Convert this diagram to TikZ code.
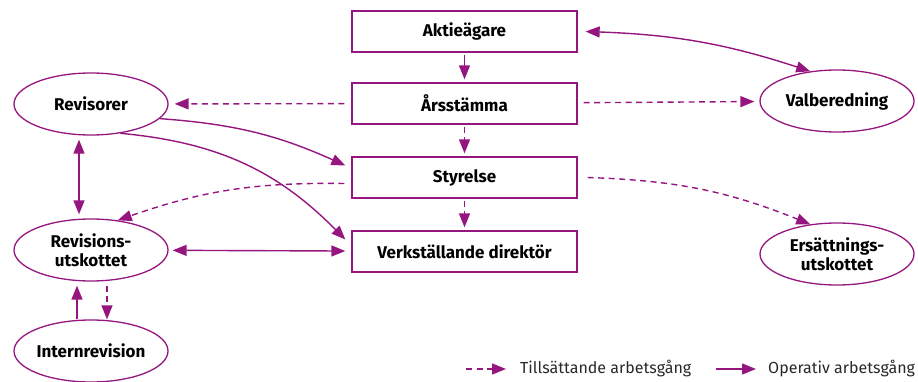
\documentclass[tikz,border=0pt]{standalone}
\usepackage{fontspec}
\setmainfont{Fira Sans}
\usetikzlibrary{arrows.meta,shapes.geometric}
\definecolor{lila}{RGB}{150,22,128}
\definecolor{textgra}{RGB}{40,40,40}

\begin{document}
\begin{tikzpicture}[x=1pt,y=-1pt,
    ruta/.style={draw=lila,line width=1.3pt,minimum width=225pt,minimum height=41pt,inner sep=0pt,font=\bfseries\fontsize{17}{19}\selectfont},
    oval/.style={draw=lila,ellipse,line width=1.3pt,minimum width=154pt,minimum height=62pt,inner sep=0pt,align=center,font=\bfseries\fontsize{17}{19}\selectfont},
    pil/.style={draw=lila,line width=1.4pt,-{Triangle[length=14pt,width=11pt]}},
    dubbelpil/.style={pil,{Triangle[length=14pt,width=11pt]}-{Triangle[length=14pt,width=11pt]}},
    streck/.style={pil,dash pattern=on 6pt off 4.5pt},
    legtext/.style={anchor=west,inner sep=0pt,text=textgra,font=\fontsize{16}{18}\selectfont}]
    \useasboundingbox (0,0) rectangle (918,382);
    % rutor i mitten
    \node[ruta] (akt) at (464.5,31.5) {Aktieägare};
    \node[ruta] (ars) at (464.5,103.5) {Årsstämma};
    \node[ruta] (sty) at (464.5,177.5) {Styrelse};
    \node[ruta] (vd) at (464.5,251.5) {Verkställande direktör};
    % ovaler
    \node[oval] (rev) at (91,104) {Revisorer};
    \node[oval] (revu) at (91,250) {Revisions-\\utskottet};
    \node[oval] (intr) at (91,351) {Internrevision};
    \node[oval] (val) at (837,101) {Valberedning};
    \node[oval] (ers) at (837,254) {Ersättnings-\\utskottet};
    % pilar
    \draw[pil,shorten <=2pt,shorten >=3pt] (akt) -- (ars);
    \draw[streck,shorten <=2pt,shorten >=3pt] (ars) -- (sty);
    \draw[streck,shorten <=2pt,shorten >=3pt] (sty) -- (vd);
    \draw[streck,shorten <=7pt,shorten >=6pt] (ars) -- (rev);
    \draw[streck,shorten <=6pt,shorten >=5pt] (ars) -- (val);
    \draw[dubbelpil] ([xshift=8pt]akt.east) to[bend left=8] (val.132);
    \draw[streck] ([xshift=10pt]sty.east) to[bend left=10] (ers.132);
    \draw[streck] ([xshift=-7pt,yshift=-6pt]sty.west) to[bend right=10] (revu.48);
    \draw[pil] (rev.-12) to[bend left=10] ([xshift=-6pt,yshift=12pt]sty.west);
    \draw[pil] (rev.-45) to[bend left=20] ([xshift=-6pt,yshift=12pt]vd.west);
    \draw[dubbelpil,shorten <=4pt,shorten >=4pt] ([xshift=-12pt]rev.south) -- ([xshift=-12pt]revu.north);
    \draw[dubbelpil,shorten <=4pt,shorten >=6pt] (revu) -- (vd);
    \draw[pil,shorten >=4pt] ([xshift=-14pt]intr.north) -- ([xshift=-14pt]revu.south);
    \draw[streck,shorten <=4pt] ([xshift=16pt]revu.south) -- ([xshift=16pt]intr.north);
    % teckenforklaring
    \coordinate (l1) at (466,369);
    \node[legtext] (t1) at (520,369) {Tillsättande arbetsgång};
    \coordinate (l2) at (716,369);
    \node[legtext] (t2) at (768,369) {Operativ arbetsgång};
    \draw[streck,shorten >=14pt] (l1) -- (t1);
    \draw[pil,shorten >=12pt] (l2) -- (t2);
\end{tikzpicture}
\end{document}
